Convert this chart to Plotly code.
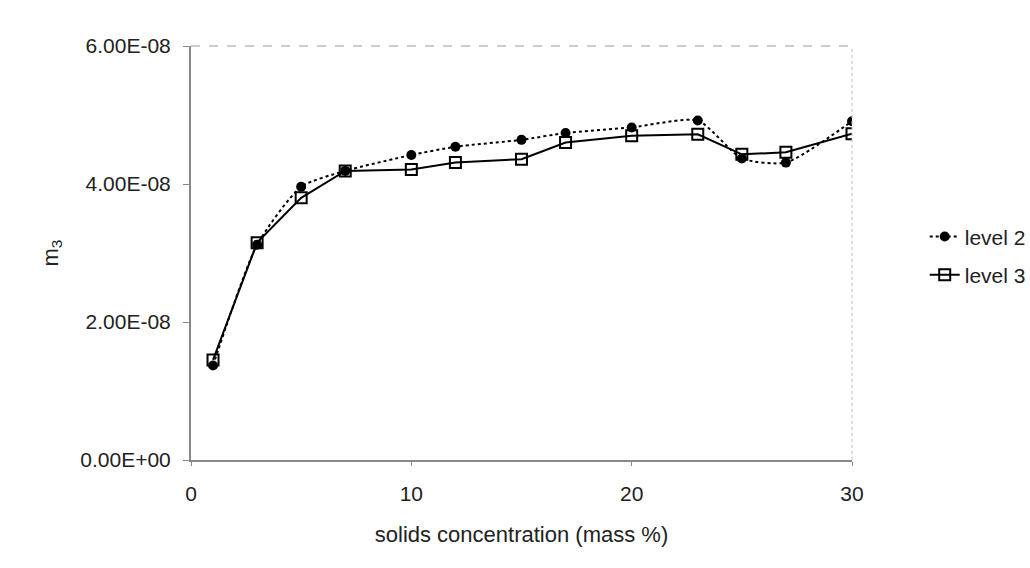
import plotly.graph_objects as go

# solids concentration (mass %)
conc = [1, 3, 5, 7, 10, 12, 15, 17, 20, 23, 25, 27, 30]

# third moment m3 at two levels
level2 = [1.37e-8, 3.12e-8, 3.96e-8, 4.19e-8, 4.42e-8, 4.54e-8, 4.64e-8,
          4.74e-8, 4.82e-8, 4.92e-8, 4.37e-8, 4.31e-8, 4.91e-8]
level3 = [1.45e-8, 3.15e-8, 3.80e-8, 4.19e-8, 4.21e-8, 4.31e-8, 4.36e-8,
          4.60e-8, 4.70e-8, 4.72e-8, 4.43e-8, 4.46e-8, 4.73e-8]

y_ticks = [0, 2e-8, 4e-8, 6e-8]
y_tick_labels = ["0.00E+00", "2.00E-08", "4.00E-08", "6.00E-08"]
x_ticks = [0, 10, 20, 30]

font = "Liberation Sans, Arial, sans-serif"
tick_fs = 21
title_fs = 22

fig = go.Figure()
fig.add_trace(go.Scatter(
    x=conc, y=level2, name="level 2", mode="lines+markers", legendgroup="l2",
    line=dict(color="black", width=2, dash="dot", shape="spline", smoothing=0.6),
    marker=dict(symbol="circle", size=10, color="black"),
))
fig.add_trace(go.Scatter(
    x=conc, y=level3, name="level 3", mode="lines+markers", legendgroup="l3",
    line=dict(color="black", width=2),
    marker=dict(symbol="square-open", size=11, color="black", line=dict(width=2)),
))

# faint frame on the top and right of the plotting area
fig.add_shape(type="line", xref="paper", yref="paper", x0=0, x1=1, y0=1, y1=1,
              line=dict(color="#999999", width=1, dash="dash"))
fig.add_shape(type="line", xref="paper", yref="paper", x0=1, x1=1, y0=0, y1=1,
              line=dict(color="#bbbbbb", width=1, dash="dot"))

fig.update_layout(
    width=1030, height=568,
    margin=dict(l=191, r=178, t=46, b=108, autoexpand=False),
    paper_bgcolor="white", plot_bgcolor="white",
    font=dict(family=font, size=tick_fs, color="#222222"),
    showlegend=True,
    legend=dict(x=1.11, y=0.493, xanchor="left", yanchor="middle",
                font=dict(family=font, size=tick_fs), bgcolor="rgba(0,0,0,0)",
                itemwidth=30, tracegroupgap=8),
    xaxis=dict(range=[0, 30], tickvals=x_ticks, showgrid=False, zeroline=False,
               showline=True, linecolor="#888888", linewidth=2,
               ticks="outside", ticklen=4, tickcolor="#888888",
               ticklabelstandoff=10,
               tickfont=dict(family=font, size=tick_fs),
               title=dict(text="solids concentration (mass %)", standoff=22,
                          font=dict(family=font, size=title_fs))),
    yaxis=dict(range=[0, 6e-8], tickvals=y_ticks, ticktext=y_tick_labels,
               showgrid=False, zeroline=False,
               showline=True, linecolor="#888888", linewidth=2,
               ticks="outside", ticklen=6, tickcolor="#888888",
               ticklabelstandoff=8,
               tickfont=dict(family=font, size=tick_fs),
               title=dict(text="m<sub>3</sub>", standoff=16,
                          font=dict(family=font, size=title_fs))),
)

fig.write_html("out.html")
